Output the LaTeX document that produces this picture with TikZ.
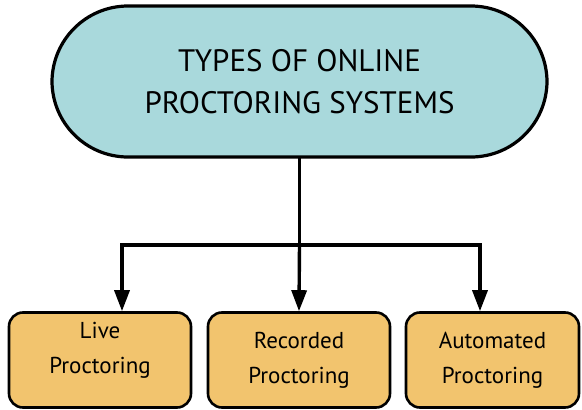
\documentclass[tikz,border=0pt]{standalone}
\usepackage{fontspec}
\setmainfont{PT Sans}
\usetikzlibrary{arrows.meta}
\definecolor{pillfill}{HTML}{A9D9DC}
\definecolor{boxfill}{HTML}{F2C46E}
\tikzset{
  pill/.style={draw=black, line width=3.2pt, fill=pillfill, rounded corners=76pt},
  leafbox/.style={draw=black, line width=2.6pt, fill=boxfill, rounded corners=14pt, minimum height=95pt, inner sep=0pt},
  boxtext/.style={align=center, font=\fontsize{23}{35}\selectfont, inner sep=0pt},
  conn/.style={line width=3.4pt, -{Triangle[length=21pt,width=15pt]}}
}
\begin{document}
\begin{tikzpicture}[x=1pt,y=-1pt]
\useasboundingbox[fill=white] (0,0) rectangle (582,410);
\draw[pill] (52,6) rectangle (547,157);
\node[align=center, font=\fontsize{31}{42}\selectfont] (title) at (299.5,82) {TYPES OF ONLINE\\PROCTORING SYSTEMS};
\coordinate (top) at (299.5,157);
\node[leafbox, minimum width=182pt, label={[boxtext, yshift=10pt]center:{Live\\Proctoring}}] (live) at (100,360) {};
\node[leafbox, minimum width=182pt, label={[boxtext]center:{Recorded\\Proctoring}}] (rec) at (299,360) {};
\node[leafbox, minimum width=173pt, label={[boxtext]center:{Automated\\Proctoring}}] (auto) at (492.5,360) {};
\coordinate (j) at (299.5,245);
\draw[line width=3.4pt] (top) -- (j);
\draw[conn] (j) -| (live.north -| 122,0);
\draw[conn] (j) -- (rec.north);
\draw[conn] (j) -| (auto.north -| 480,0);
\end{tikzpicture}
\end{document}
